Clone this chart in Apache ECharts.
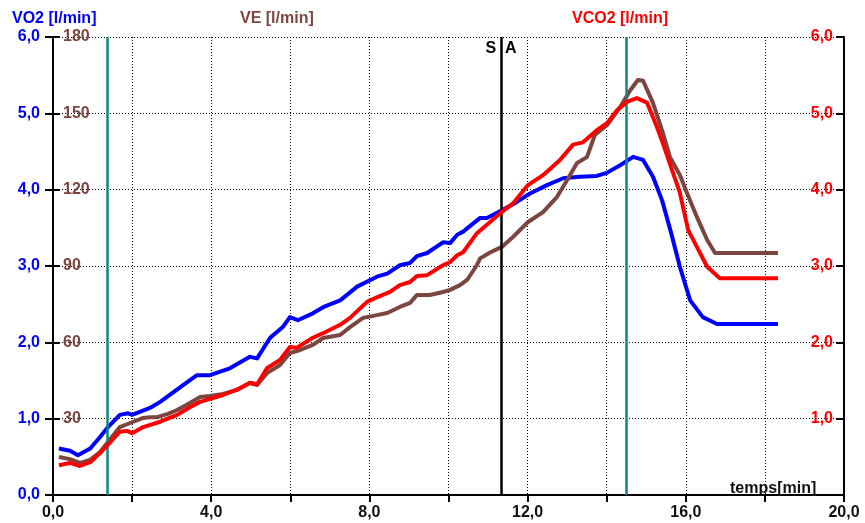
<!DOCTYPE html>
<html>
<head>
<meta charset="utf-8">
<script src="https://cdn.jsdelivr.net/npm/echarts@6/dist/echarts.min.js"></script>
<style>html,body{margin:0;padding:0;background:#fff}#c{width:865px;height:523px}</style>
</head>
<body>
<div id="c"></div>
<script>
// time (min) and values
var vo2T = [0.15,0.43,0.63,0.94,1.19,1.39,1.69,1.90,2.00,2.45,2.71,3.29,3.64,3.97,4.47,4.98,5.16,5.49,5.81,5.99,6.19,6.57,6.83,7.26,7.69,8.19,8.45,8.77,9.03,9.20,9.46,9.86,10.04,10.22,10.37,10.80,10.97,11.35,11.73,12.06,12.49,12.90,13.32,13.75,14.00,14.34,14.67,14.92,15.17,15.40,15.62,15.85,16.11,16.43,16.79,18.33];
var vo2  = [0.61,0.58,0.52,0.61,0.76,0.89,1.05,1.07,1.05,1.14,1.22,1.44,1.57,1.57,1.66,1.81,1.79,2.06,2.20,2.33,2.29,2.38,2.46,2.55,2.73,2.86,2.90,3.01,3.04,3.13,3.17,3.31,3.30,3.41,3.45,3.63,3.63,3.73,3.84,3.95,4.06,4.15,4.17,4.18,4.22,4.32,4.43,4.39,4.17,3.86,3.45,2.99,2.55,2.33,2.24,2.24];

var vco2T = [0.15,0.43,0.68,0.94,1.19,1.39,1.69,1.87,2.00,2.28,2.71,3.14,3.46,3.72,4.30,4.65,4.98,5.16,5.41,5.74,5.99,6.17,6.57,6.83,7.26,7.51,7.94,8.19,8.52,8.77,9.03,9.20,9.46,9.86,10.04,10.22,10.37,10.72,10.97,11.35,11.63,12.01,12.39,12.82,13.15,13.40,13.75,14.01,14.26,14.51,14.76,15.02,15.27,15.42,15.65,15.85,16.06,16.28,16.54,16.86,18.33];
var vco2  = [0.39,0.42,0.38,0.43,0.55,0.66,0.83,0.84,0.81,0.89,0.96,1.05,1.15,1.22,1.31,1.38,1.47,1.45,1.66,1.77,1.94,1.93,2.06,2.12,2.23,2.32,2.53,2.59,2.66,2.75,2.79,2.87,2.88,3.01,3.05,3.14,3.18,3.43,3.54,3.71,3.82,4.06,4.19,4.39,4.59,4.62,4.78,4.87,5.04,5.15,5.20,5.14,4.82,4.61,4.26,3.96,3.47,3.25,2.99,2.84,2.84];

var veT = [0.15,0.43,0.68,0.94,1.19,1.39,1.69,1.95,2.28,2.45,2.63,2.89,3.14,3.46,3.72,3.97,4.30,4.65,4.98,5.16,5.41,5.74,5.99,6.25,6.57,6.83,7.26,7.51,7.84,8.19,8.45,8.77,9.03,9.20,9.53,9.86,10.04,10.29,10.47,10.72,10.80,11.05,11.35,11.63,12.01,12.39,12.74,13.00,13.25,13.50,13.70,14.01,14.34,14.60,14.79,14.92,15.17,15.42,15.60,15.85,16.03,16.28,16.54,16.74,18.33];
var ve  = [14.9,14.1,12.6,13.8,16.9,20.8,26.7,28.3,30.3,30.6,30.6,31.8,33.4,36.2,38.5,38.9,39.7,41.3,44.0,43.2,47.9,51.1,55.8,57.0,59.0,61.7,62.9,66.0,69.6,70.7,71.5,73.9,75.5,78.6,78.6,79.8,80.6,82.5,84.5,90.4,93.0,95.3,97.5,101.4,107.3,111.2,117.1,123.8,130.5,132.8,141.5,145.4,152.5,159.2,163.1,162.8,154.1,142.3,132.8,125.8,118.7,109.3,100.2,95.1,95.1];

var markersTeal = [1.37, 14.5];
var markerSA = 11.33;

function zip(a, b) { return a.map(function (t, i) { return [t, b[i]]; }); }
function comma(v) { return v.toFixed(1).replace('.', ','); }

var FONT = 'Liberation Sans';
var BLUE = '#0000ff', RED = '#ff0000', BROWN = '#7b4540', TEAL = '#0e867e';

var chart = echarts.init(document.getElementById('c'));
chart.setOption({
  animation: false,
  backgroundColor: '#fff',
  textStyle: { fontFamily: FONT },
  grid: { left: 53, right: 21, top: 37, bottom: 28 },
  title: [
    { text: 'VO2 [l/min]', left: 7, top: 6, textStyle: { color: BLUE, fontSize: 16, fontWeight: 'bold', fontFamily: FONT } },
    { text: 'VE [l/min]', left: 235, top: 6, textStyle: { color: BROWN, fontSize: 16, fontWeight: 'bold', fontFamily: FONT } },
    { text: 'VCO2 [l/min]', left: 567, top: 6, textStyle: { color: RED, fontSize: 16, fontWeight: 'bold', fontFamily: FONT } },
    { text: 'temps[min]', left: 725, top: 476, textStyle: { color: '#111', fontSize: 16, fontWeight: 'bold', fontFamily: FONT } }
  ],
  xAxis: {
    type: 'value', min: 0, max: 20, interval: 2,
    axisLine: { lineStyle: { color: '#000', width: 2 } },
    axisTick: { show: true, length: 7, lineStyle: { color: '#000', width: 2 } },
    axisLabel: { color: '#111', fontSize: 16, fontWeight: 'bold', fontFamily: FONT, margin: 10,
      showMinLabel: true, showMaxLabel: true,
      formatter: function (v) { return (Math.round(v) % 4 === 0) ? comma(v) : ''; } },
    splitLine: { show: true, lineStyle: { color: '#000', width: 1, type: [1, 2] } }
  },
  yAxis: [
    { type: 'value', min: 0, max: 6, interval: 1, position: 'left',
      axisLine: { show: true, lineStyle: { color: '#000', width: 2 } },
      axisTick: { show: true, length: 8, lineStyle: { color: '#000', width: 2 } },
      axisLabel: { color: BLUE, fontSize: 16, fontWeight: 'bold', fontFamily: FONT, margin: 13, formatter: comma },
      splitLine: { show: true, lineStyle: { color: '#000', width: 1, type: [1, 2] } } },
    { type: 'value', min: 0, max: 180, interval: 30, position: 'left',
      axisLine: { show: false },
      axisTick: { show: true, inside: true, length: 7, lineStyle: { color: '#000', width: 2 } },
      axisLabel: { inside: true, color: BROWN, fontSize: 16, fontWeight: 'bold', fontFamily: FONT, margin: 10,
        formatter: function (v) { return v === 0 ? '' : String(v); } },
      splitLine: { show: false } },
    { type: 'value', min: 0, max: 6, interval: 1, position: 'right',
      axisLine: { show: true, lineStyle: { color: '#000', width: 2 } },
      axisTick: { show: true, inside: true, length: 8, lineStyle: { color: '#000', width: 2 } },
      axisLabel: { inside: true, color: RED, fontSize: 16, fontWeight: 'bold', fontFamily: FONT, margin: 11,
        formatter: function (v) { return v === 0 ? '' : comma(v); } },
      splitLine: { show: false } }
  ],
  series: [
    { name: 'VO2', type: 'line', yAxisIndex: 0, data: zip(vo2T, vo2), showSymbol: false, symbol: 'none',
      lineStyle: { color: BLUE, width: 4, join: 'round' }, z: 3,
      markLine: { silent: true, symbol: ['none', 'none'], label: { show: false },
        data: [
          { xAxis: markersTeal[0], lineStyle: { color: TEAL, width: 2.5, type: 'solid' } },
          { xAxis: markersTeal[1], lineStyle: { color: TEAL, width: 2.5, type: 'solid' } },
          { xAxis: markerSA, lineStyle: { color: '#000', width: 2.5, type: 'solid' } }
        ] },
      markPoint: { silent: true, symbol: 'rect', symbolSize: 0,
        data: [{ coord: [markerSA, 5.85], label: { show: true, position: 'inside', formatter: 'S  A', color: '#000', fontSize: 16, fontWeight: 'bold', fontFamily: FONT } }] } },
    { name: 'VE', type: 'line', yAxisIndex: 1, data: zip(veT, ve), showSymbol: false, symbol: 'none',
      lineStyle: { color: BROWN, width: 4, join: 'round' }, z: 4 },
    { name: 'VCO2', type: 'line', yAxisIndex: 2, data: zip(vco2T, vco2), showSymbol: false, symbol: 'none',
      lineStyle: { color: RED, width: 4, join: 'round' }, z: 5 }
  ]
});
</script>
</body>
</html>
